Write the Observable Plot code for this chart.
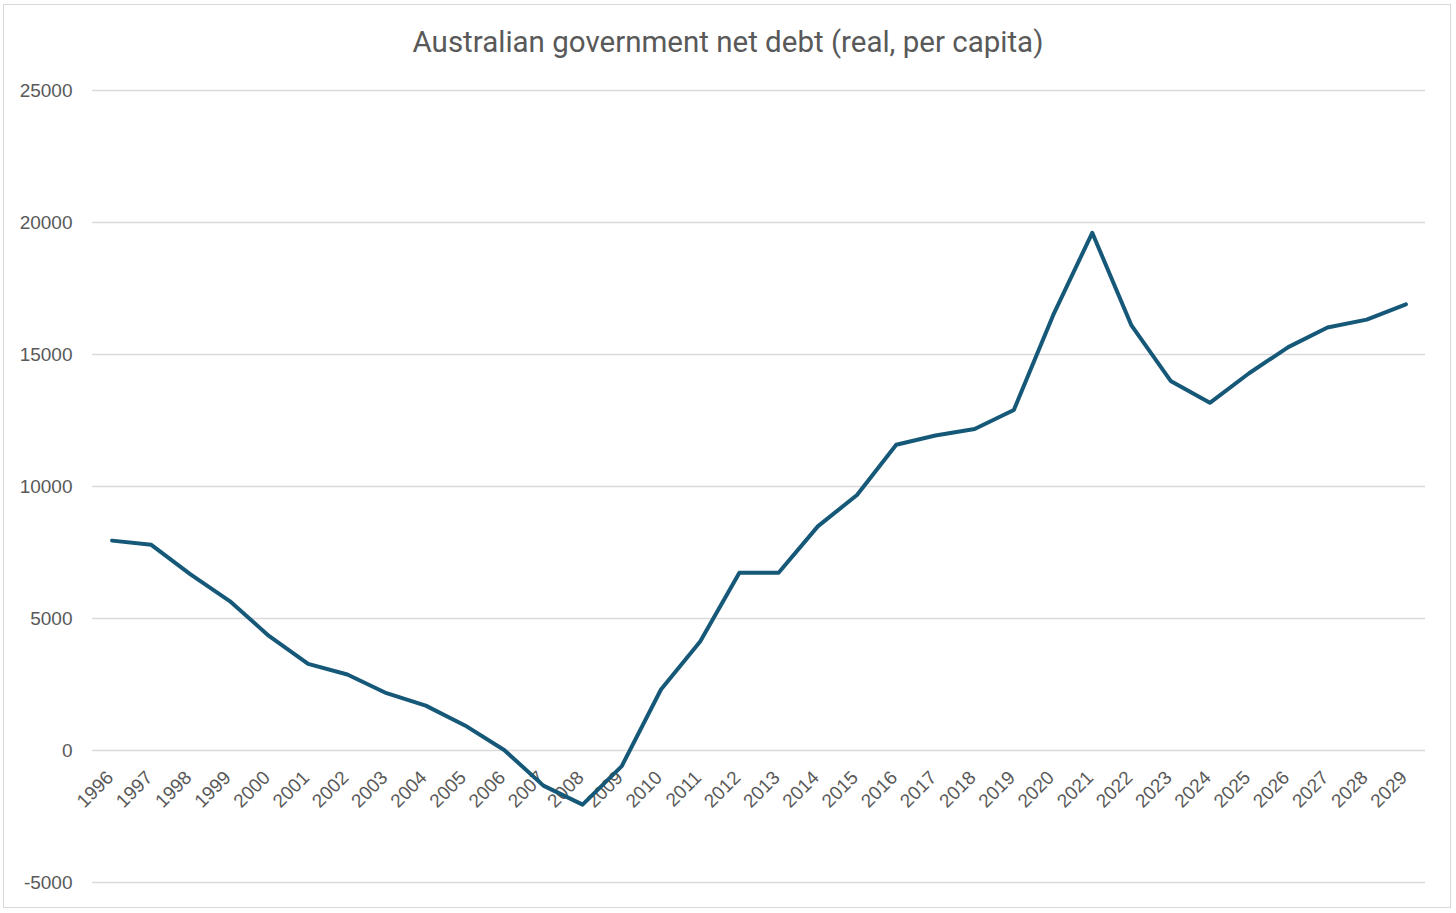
<!DOCTYPE html>
<html>
<head>
<meta charset="utf-8">
<script src="https://cdn.jsdelivr.net/npm/d3@7"></script>
<script src="https://cdn.jsdelivr.net/npm/@observablehq/plot@0.6"></script>
<style>
  html, body { margin: 0; padding: 0; background: #fff; }
  #wrap { position: relative; width: 1456px; height: 913px; overflow: hidden; font-family: "Liberation Sans", Arial, sans-serif; }
  #frame { position: absolute; left: 3px; top: 4px; width: 1448px; height: 904px; border: 1.5px solid #d9d9d9; box-sizing: border-box; pointer-events: none; }
  #title { height: 70px; text-align: center; font-family: "Roboto", sans-serif; font-size: 29.5px; color: #595959; line-height: 84px; }
  #chart svg { display: block; }
</style>
</head>
<body>
<div id="wrap">
  <div id="title">Australian government net debt (real, per capita)</div>
  <div id="chart"></div>
  <div id="frame"></div>
</div>
<script>
const years = [1996,1997,1998,1999,2000,2001,2002,2003,2004,2005,2006,2007,2008,2009,2010,2011,2012,2013,2014,2015,2016,2017,2018,2019,2020,2021,2022,2023,2024,2025,2026,2027,2028,2029];
const debt = [7950,7790,6670,5660,4340,3280,2880,2170,1700,950,20,-1330,-2050,-590,2310,4130,6730,6730,8490,9680,11580,11930,12180,12900,16480,19610,16100,14000,13170,14290,15280,16020,16320,16900];
const yTicks = [-5000,0,5000,10000,15000,20000,25000];

const data = years.map((y, i) => ({year: y, value: debt[i]}));

const chart = Plot.plot({
  width: 1456,
  height: 843,
  marginLeft: 92,
  marginRight: 31,
  marginTop: 20,
  marginBottom: 31,
  style: {fontFamily: "Liberation Sans, Arial, sans-serif", fontSize: "19px", color: "#595959", background: "transparent"},
  x: {domain: [1995.5, 2029.5], axis: null},
  y: {domain: [-5000, 25000], ticks: yTicks, tickFormat: d => String(d), tickSize: 0, tickPadding: 20, label: null},
  marks: [
    Plot.ruleY(yTicks, {stroke: "#d9d9d9", strokeWidth: 1.3}),
    Plot.text(years, {x: d => d, y: 0, text: d => String(d), rotate: -45, textAnchor: "end", dx: -2, dy: 24, fill: "#595959", fontSize: 19}),
    Plot.line(data, {x: "year", y: "value", stroke: "#155878", strokeWidth: 4, strokeLinejoin: "round", strokeLinecap: "round"})
  ]
});
document.getElementById("chart").appendChild(chart);
</script>
</body>
</html>
